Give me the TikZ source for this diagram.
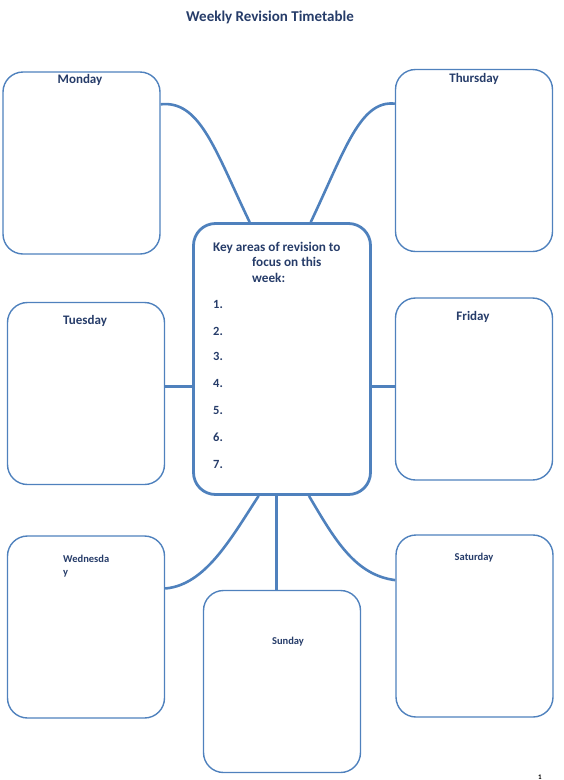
\documentclass[tikz,border=0pt]{standalone}
\usepackage{fontspec}
\setmainfont{Carlito}
\usepackage{tikz}
\usetikzlibrary{positioning, calc}
\definecolor{wkBlue}{RGB}{79,129,189}
\definecolor{wkNavy}{RGB}{38,60,105}

\begin{document}
\begin{tikzpicture}[
    x=1pt, y=-1pt,
    font=\bfseries\color{wkNavy},
    day/.style={draw=wkBlue, line width=1.4pt, rounded corners=20pt,
                minimum width=157pt, minimum height=182pt, inner sep=0pt},
    hub/.style={draw=wkBlue, line width=2.8pt, rounded corners=22pt,
                minimum width=177pt, minimum height=271pt, inner sep=0pt},
    daytxt/.style={font=\fontsize{13}{15}\selectfont\bfseries\color{wkNavy},
                inner sep=1pt},
    smalltxt/.style={font=\fontsize{10.5}{13}\selectfont\bfseries\color{wkNavy},
                inner sep=1pt},
    item/.style={font=\fontsize{12.5}{14}\selectfont\bfseries\color{wkNavy},
                anchor=west, inner sep=0pt},
    link/.style={draw=wkBlue, line width=2.6pt}
]
\useasboundingbox (0,0) rectangle (563,780);

% Title
\node[font=\fontsize{15}{17}\selectfont\bfseries\color{wkNavy}] (title) at (270,17)
    {Weekly Revision Timetable};

% Centre box with the list of key areas
\node[hub] (key) at (282,359) {};
\node[font=\fontsize{13.2}{15.5}\selectfont\bfseries\color{wkNavy},
      align=left, anchor=north west, inner sep=0pt] (keytxt) at (213,242)
    {Key areas of revision to\\\hspace*{39pt}focus on this\\\hspace*{39pt}week:};
\node[item] (i1) at (213,304) {1.};
\node[item] (i2) at (213,331) {2.};
\node[item] (i3) at (213,356) {3.};
\node[item] (i4) at (213,383) {4.};
\node[item] (i5) at (213,410) {5.};
\node[item] (i6) at (213,437) {6.};
\node[item] (i7) at (213,464) {7.};

% Left column: Monday, Tuesday, Wednesday
\node[day] (mon) at (81.5,163) {};
\node[day] (tue) at (86,393.5) {};
\node[day] (wed) at (86,627) {};

% Right column: Thursday, Friday, Saturday
\node[day] (thu) at (474,160.5) {};
\node[day] (fri) at (474,389) {};
\node[day] (sat) at (474.5,626) {};

% Bottom middle: Sunday
\node[day] (sun) at (282,681.5) {};

% Day labels
\node[daytxt, fill=white, minimum width=60pt] (monT) at (80,80) {Monday};
\node[daytxt] (thuT) at (474,79) {Thursday};
\node[daytxt] (tueT) at (85,321) {Tuesday};
\node[daytxt] (friT) at (473,317) {Friday};
\node[smalltxt, align=left, anchor=north west] (wedT) at (62,554) {Wednesda\\y};
\node[smalltxt] (satT) at (474,558) {Saturday};
\node[smalltxt] (sunT) at (288,642) {Sunday};

% Connectors from the days to the centre box
\coordinate (monE) at ($(mon.north east)!0.18!(mon.south east)$);
\coordinate (thuW) at ($(thu.north west)!0.19!(thu.south west)$);
\coordinate (wedE) at ($(wed.north east)!0.29!(wed.south east)$);
\coordinate (satW) at ($(sat.north west)!0.25!(sat.south west)$);
\coordinate (keyTL) at ($(key.north west)!0.32!(key.north east)$);
\coordinate (keyTR) at ($(key.north west)!0.66!(key.north east)$);
\coordinate (keyBL) at ($(key.south west)!0.37!(key.south east)$);
\coordinate (keyBR) at ($(key.south west)!0.65!(key.south east)$);
\coordinate (keyL) at ($(key.north west)!0.6!(key.south west)$);
\coordinate (keyR) at ($(key.north east)!0.6!(key.south east)$);
\coordinate (keyB) at ($(key.south west)!0.47!(key.south east)$);

\draw[link] (monE) .. controls (200,100) and (215,150) .. (keyTL);
\draw[link] (keyTR) .. controls (345,150) and (360,100) .. (thuW);
\draw[link] (tue.east |- keyL) -- (keyL);
\draw[link] (keyR) -- (fri.west |- keyR);
\draw[link] (keyBL) .. controls (230,540) and (205,585) .. (wedE);
\draw[link] (keyB) -- (keyB |- sun.north);
\draw[link] (keyBR) .. controls (335,540) and (355,575) .. (satW);

% Page number
\node[font=\fontsize{7}{8}\selectfont\bfseries, text=black] (pg) at (540,777) {1};

\end{tikzpicture}
\end{document}
